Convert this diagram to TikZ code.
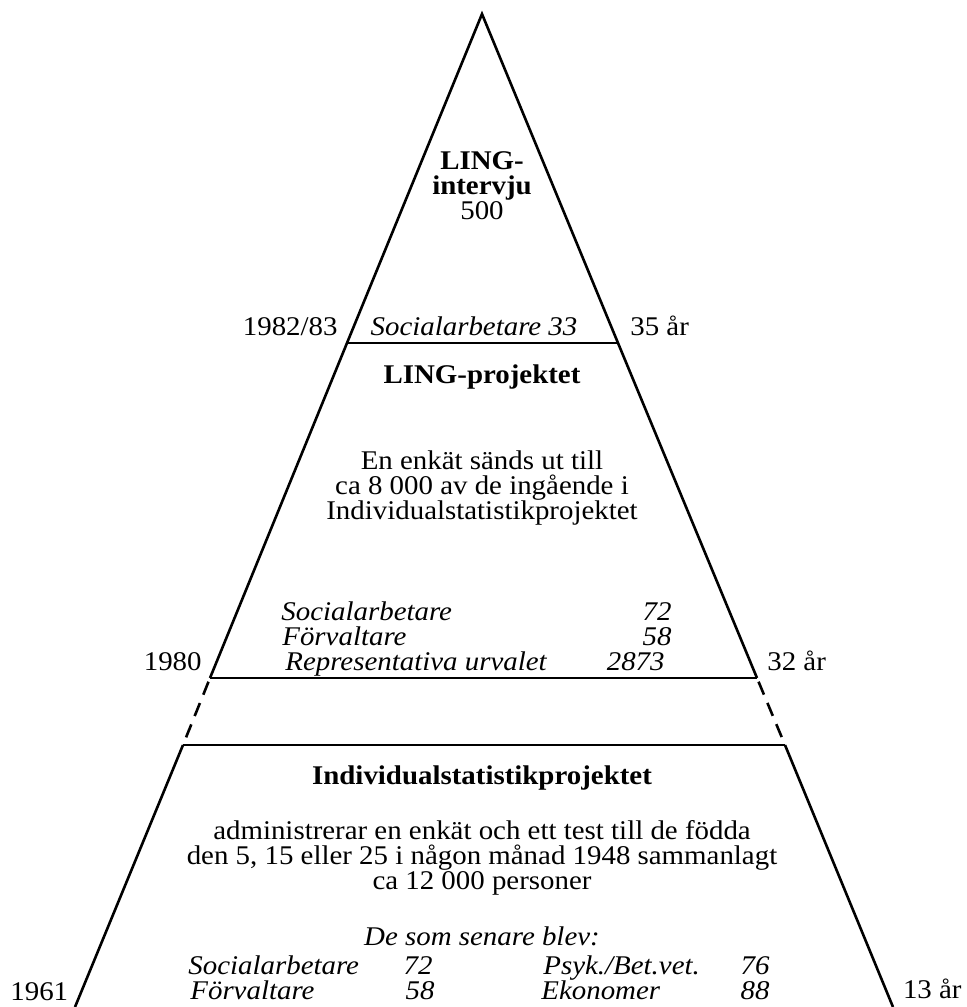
\documentclass[tikz,border=0pt]{standalone}
\usepackage{fontspec}
\setmainfont{Liberation Serif}[FakeStretch=1.07]

\begin{document}
\begin{tikzpicture}[x=0.5pt,y=-0.5pt,
    side/.style={line width=1.3pt},
    gap/.style={side, dash pattern=on 7pt off 4.5pt, dash phase=9.5pt},
    txt/.style={inner sep=0pt, font=\fontsize{13.5}{12.5}\selectfont},
    btxt/.style={txt, font=\fontsize{13.5}{12.5}\selectfont\bfseries},
    itxt/.style={txt, font=\fontsize{13.5}{12.5}\selectfont\itshape}]
  \useasboundingbox (0,0) rectangle (967,1007);

  % Corners
  \coordinate (top) at (482,14);
  \coordinate (aL) at (347,343);  \coordinate (aR) at (618,343);
  \coordinate (bL) at (210,678);  \coordinate (bR) at (757,678);
  \coordinate (cL) at (183,745);  \coordinate (cR) at (785,745);
  \coordinate (dL) at (75,1007);  \coordinate (dR) at (893,1007);

  % Sides
  \draw[side] (bL) -- (aL) -- (top) -- (aR) -- (bR);
  \draw[gap] (bL) -- (cL);
  \draw[gap] (bR) -- (cR);
  \draw[side] (cL) -- (dL);
  \draw[side] (cR) -- (dR);

  % Levels
  \draw[side] (aL) -- (aR);
  \draw[side] (bL) -- (bR);
  \draw[side] (cL) -- (cR);

  % Top
  \node[txt, align=center] (interview) at (482,186)
    {\textbf{LING-}\\\textbf{intervju}\\500};
  \node[itxt, anchor=base] (soc33) at (474,335) {Socialarbetare 33};
  \node[txt, anchor=base east] (y8283) at (338,335) {1982/83};
  \node[txt, anchor=base west] (age35) at (630,335) {35 år};

  % Middle
  \node[btxt] (ling) at (482,377) {LING-projektet};
  \node[txt, align=center] (survey) at (482,488)
    {En enkät sänds ut till\\ca 8 000 av de ingående i\\Individualstatistikprojektet};
  \node[itxt, anchor=base west] (msoc) at (281,620) {Socialarbetare};
  \node[itxt, anchor=base east] (msocn) at (672,620) {72};
  \node[itxt, anchor=base west] (mfor) at (282,645) {Förvaltare};
  \node[itxt, anchor=base east] (mforn) at (672,645) {58};
  \node[itxt, anchor=base west] (mrep) at (285,670) {Representativa urvalet};
  \node[itxt, anchor=base east] (mrepn) at (665,670) {2873};
  \node[txt, anchor=base east] (y80) at (202,670) {1980};
  \node[txt, anchor=base west] (age32) at (767,670) {32 år};

  % Bottom
  \node[btxt] (isp) at (482,778) {Individualstatistikprojektet};
  \node[txt, align=center] (admin) at (482,858)
    {administrerar en enkät och ett test till de födda\\den 5, 15 eller 25 i någon månad 1948 sammanlagt\\ca 12 000 personer};
  \node[itxt] (later) at (482,936) {De som senare blev:};
  \node[itxt, anchor=base west] (bsoc) at (188,974) {Socialarbetare};
  \node[itxt, anchor=base east] (bsocn) at (433,974) {72};
  \node[itxt, anchor=base west] (bpsy) at (543,974) {Psyk./Bet.vet.};
  \node[itxt, anchor=base east] (bpsyn) at (770,974) {76};
  \node[itxt, anchor=base west] (bfor) at (190,999) {Förvaltare};
  \node[itxt, anchor=base east] (bforn) at (435,999) {58};
  \node[itxt, anchor=base west] (beko) at (541,999) {Ekonomer};
  \node[itxt, anchor=base east] (bekon) at (770,999) {88};
  \node[txt, anchor=base west] (y61) at (10,1000) {1961};
  \node[txt, anchor=base east] (age13) at (962,998) {13 år};
\end{tikzpicture}
\end{document}
